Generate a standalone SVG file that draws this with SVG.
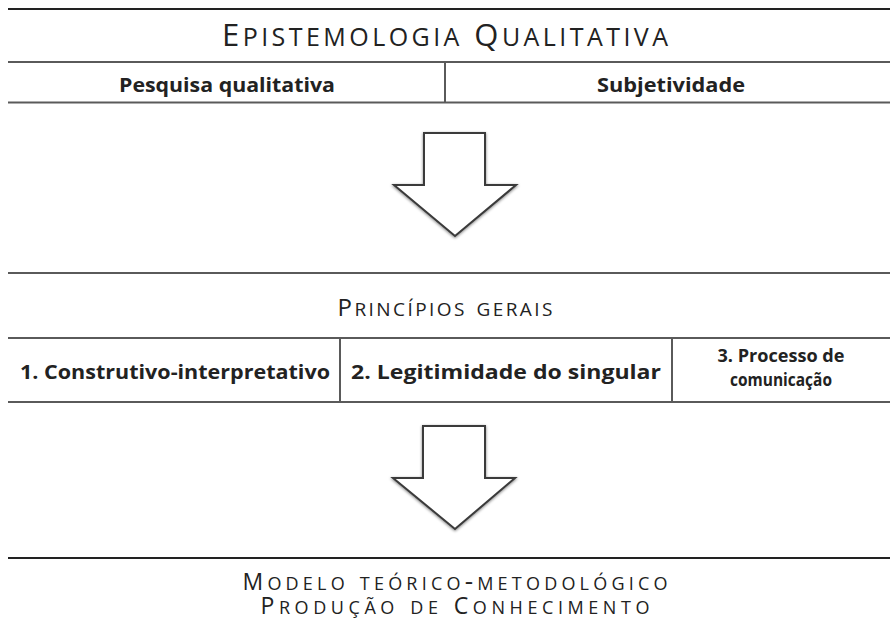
<svg xmlns="http://www.w3.org/2000/svg" width="890" height="635" viewBox="0 0 890 635">
<defs>
<style>
.title{font-family:"Open Sans","Lato",sans-serif;font-variant:small-caps;font-size:31px;fill:#222;text-anchor:middle}
.title .lc{font-size:35px}
.sub{font-family:"Open Sans","Lato",sans-serif;font-variant:small-caps;font-size:24px;fill:#222;text-anchor:middle}
.sub .lc{font-size:27px}
.sub2{font-family:"Open Sans","Lato",sans-serif;font-variant:small-caps;font-size:23px;fill:#222;text-anchor:middle}
.sub2 .lc{font-size:26px}
.lbl{font-family:"Open Sans","Lato",sans-serif;font-weight:bold;font-size:20px;fill:#222;text-anchor:middle}
.lbl3{font-family:"Open Sans","Lato",sans-serif;font-weight:bold;font-size:18px;fill:#222;text-anchor:middle}
.rule{stroke:#5a5a5a;stroke-width:2;fill:none}
.rule-top{stroke:#222;stroke-width:2;fill:none}
.arrow{fill:#fff;stroke:#3a3a3a;stroke-width:2;stroke-linejoin:miter;filter:url(#sh)}
</style>
<filter id="sh" x="-20%" y="-20%" width="140%" height="140%">
<feGaussianBlur in="SourceAlpha" stdDeviation="1.5"/>
<feOffset dx="0" dy="1" result="b"/>
<feComponentTransfer><feFuncA type="linear" slope="0.5"/></feComponentTransfer>
<feMerge><feMergeNode/><feMergeNode in="SourceGraphic"/></feMerge>
</filter>
</defs>
<rect width="890" height="635" fill="#fff"/>
<g id="rules">
<line class="rule-top" x1="8" y1="9" x2="890" y2="9"/>
<line class="rule" x1="8" y1="62" x2="890" y2="62"/>
<line class="rule" x1="445" y1="62" x2="445" y2="102.5"/>
<line class="rule" x1="8" y1="102.5" x2="890" y2="102.5"/>
<line class="rule" x1="8" y1="273" x2="890" y2="273"/>
<line class="rule" x1="8" y1="338" x2="890" y2="338"/>
<line class="rule" x1="340" y1="338" x2="340" y2="402"/>
<line class="rule" x1="672" y1="338" x2="672" y2="402"/>
<line class="rule" x1="8" y1="402" x2="890" y2="402"/>
<line class="rule-top" x1="8" y1="558" x2="890" y2="558"/>
</g>
<g id="epistemologia">
<text class="title" x="445" y="46" textLength="446" lengthAdjust="spacing">E<tspan class="lc">pistemologia</tspan> Q<tspan class="lc">ualitativa</tspan></text>
</g>
<g id="pesquisa">
<text class="lbl" x="227" y="92" textLength="216" lengthAdjust="spacingAndGlyphs">Pesquisa qualitativa</text>
</g>
<g id="subjetividade">
<text class="lbl" x="671" y="92" textLength="148" lengthAdjust="spacingAndGlyphs">Subjetividade</text>
</g>
<g id="connectors">
<polygon class="arrow" points="424,133 485,133 485,185 516,185 455,236 394,185 424,185"/>
<polygon class="arrow" points="423,426 485,426 485,478 515,478 455,529 393,478 423,478"/>
</g>
<g id="principios">
<text class="sub" x="445" y="316" textLength="215" lengthAdjust="spacing">P<tspan class="lc">rincípios gerais</tspan></text>
</g>
<g id="p1">
<text class="lbl" x="175" y="379" textLength="310" lengthAdjust="spacingAndGlyphs">1. Construtivo-interpretativo</text>
</g>
<g id="p2">
<text class="lbl" x="506" y="379" textLength="310" lengthAdjust="spacingAndGlyphs">2. Legitimidade do singular</text>
</g>
<g id="p3">
<text class="lbl3" x="781" y="362" textLength="127" lengthAdjust="spacingAndGlyphs">3. Processo de</text>
<text class="lbl3" x="781" y="386" textLength="102" lengthAdjust="spacingAndGlyphs">comunicação</text>
</g>
<g id="modelo">
<text class="sub2" x="455" y="590" textLength="425" lengthAdjust="spacing">M<tspan class="lc">odelo teórico-metodológico</tspan></text>
<text class="sub2" x="455" y="614" textLength="389" lengthAdjust="spacing">P<tspan class="lc">rodução de </tspan>C<tspan class="lc">onhecimento</tspan></text>
</g>
</svg>
